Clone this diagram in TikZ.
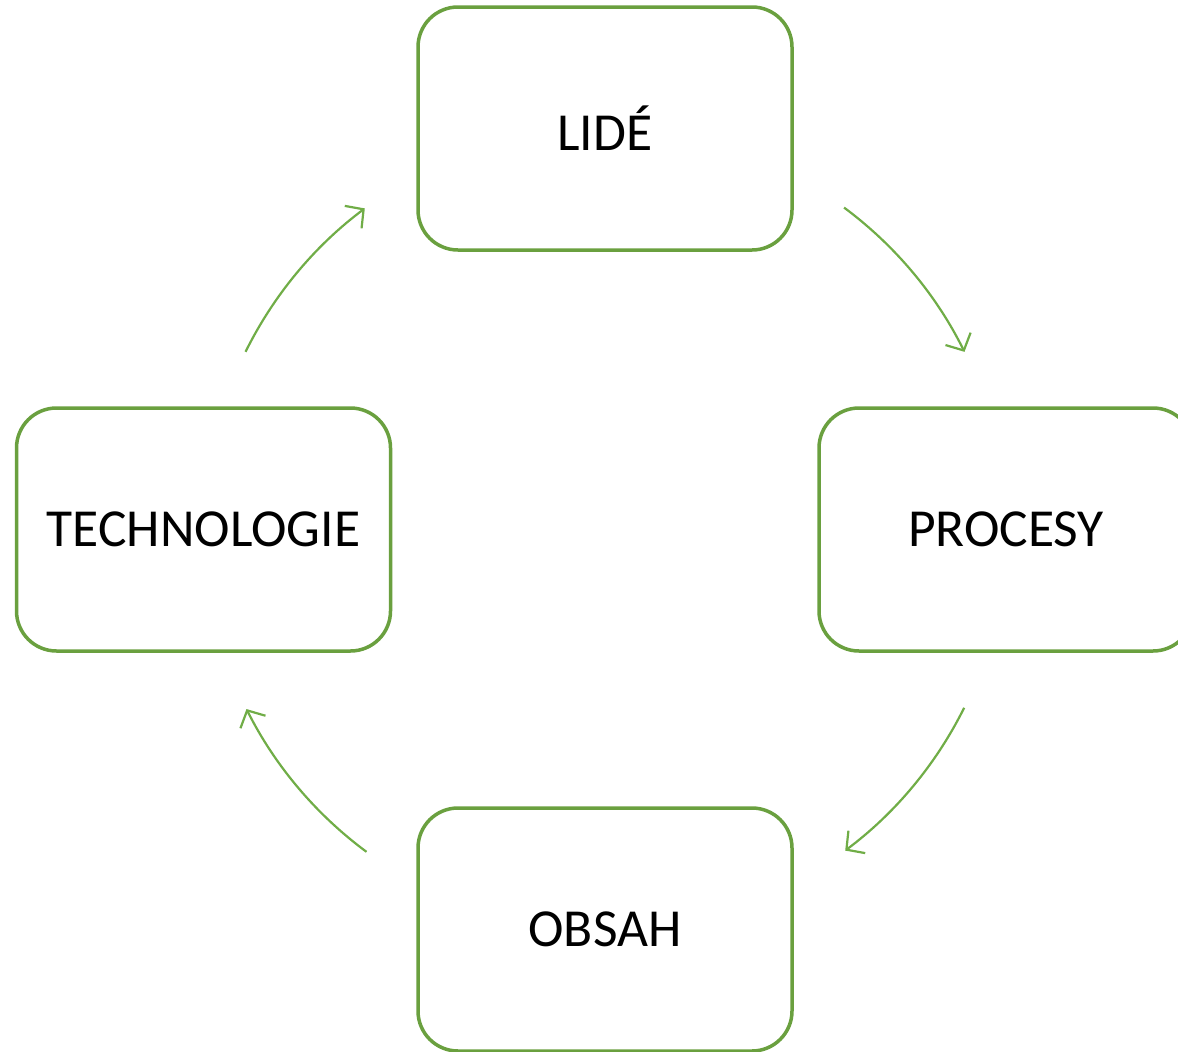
\documentclass[tikz,border=0pt]{standalone}
\usepackage{fontspec}
\setmainfont{Carlito}
\usetikzlibrary{arrows.meta}
\definecolor{boxgreen}{RGB}{106,160,63}
\definecolor{arrgreen}{RGB}{112,173,71}
\begin{document}
\begin{tikzpicture}[x=1pt,y=1pt,
  box/.style={draw=boxgreen,line width=3.5pt,rounded corners=40pt,minimum width=374pt,minimum height=243pt,fill=white,inner sep=0pt,font=\fontsize{53.5}{64}\selectfont},
  arr/.style={draw=arrgreen,line width=2.2pt,-{Straight Barb[length=13pt,width=28pt,line width=2.2pt]}}]
\useasboundingbox (0,0) rectangle (1178,-1052);
\clip (0,0) rectangle (1178,-1052);
\node[box] (lide) at (605,-128.5) {LIDÉ};
\node[box] (tech) at (203.5,-529.5) {TECHNOLOGIE};
\node[box] (proc) at (1006,-529.5) {PROCESY};
\node[box] (obsah) at (605,-929.5) {OBSAH};
\coordinate (c) at (605,-529.5);
\coordinate (s1) at ([shift={(53.4:401)}]c);
\coordinate (s2) at ([shift={(-26.4:401)}]c);
\coordinate (s3) at ([shift={(-126.5:401)}]c);
\coordinate (s4) at ([shift={(153.7:401)}]c);
\draw[arr] (s1) arc[start angle=53.4,end angle=26.3,radius=401];
\draw[arr] (s2) arc[start angle=-26.4,end angle=-53.2,radius=401];
\draw[arr] (s3) arc[start angle=-126.5,end angle=-153.4,radius=401];
\draw[arr] (s4) arc[start angle=153.7,end angle=126.8,radius=401];
\end{tikzpicture}
\end{document}
